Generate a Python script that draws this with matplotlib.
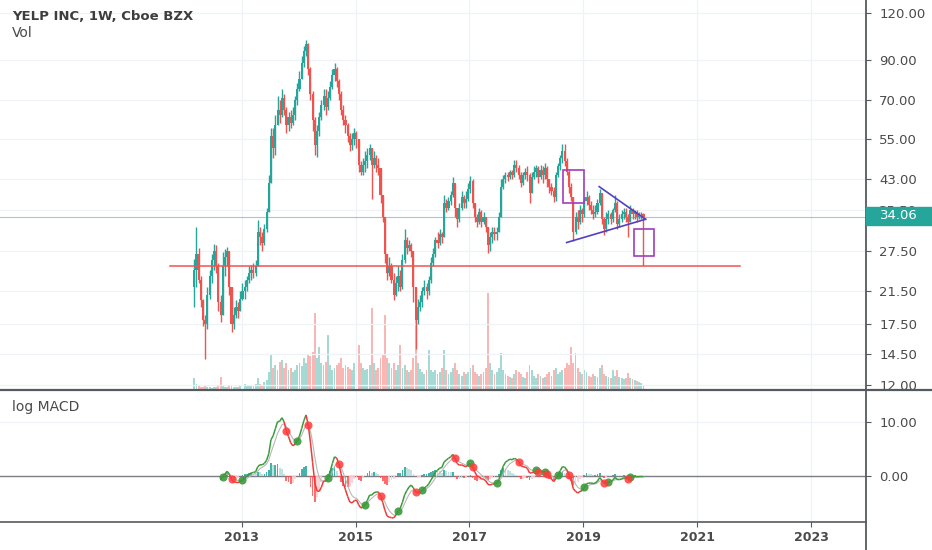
import numpy as np
import pandas as pd
import matplotlib
matplotlib.use("Agg")
import matplotlib.pyplot as plt
from matplotlib.collections import LineCollection
from matplotlib.patches import Rectangle
from matplotlib.lines import Line2D
from matplotlib.ticker import FixedLocator, FuncFormatter, NullLocator

plt.rcParams["font.family"] = "DejaVu Sans"

W, H = 932, 550

# -----------------------------
# Data (bi-weekly candles, Mar 2012 - Jan 2020)
# -----------------------------
start_year = 2012.17
step = 1 / 26
first_open = 22.0

closes = [
    24.5, 27.0, 23.0, 20.3, 18.0, 17.5, 21.0, 23.5, 26.0, 27.5,
    25.0, 20.0, 18.5, 25.0, 26.5, 27.5, 22.0, 17.5, 18.5, 19.5,
    19.0, 20.5, 21.5, 22.0, 23.0, 24.0, 24.5, 24.0, 25.0, 31.0,
    30.0, 29.0, 31.5, 35.0, 42.0, 56.0, 52.0, 60.0, 66.0, 64.0,
    71.0, 66.0, 60.0, 63.0, 61.0, 64.0, 70.0, 75.0, 80.0, 88.0,
    95.0, 99.0, 85.0, 73.0, 62.0, 53.0, 58.0, 63.0, 68.0, 72.0,
    67.0, 71.0, 76.0, 82.0, 85.0, 79.0, 73.0, 66.0, 62.0, 60.0,
    56.0, 53.0, 55.0, 57.0, 55.0, 47.0, 45.0, 47.0, 48.0, 50.0,
    52.0, 47.0, 49.0, 47.0, 46.0, 39.0, 34.0, 27.0, 24.0, 25.0,
    23.0, 21.0, 22.5, 23.5, 22.0, 26.0, 29.5, 28.0, 28.5, 27.5,
    22.0, 18.0, 19.5, 20.0, 21.5, 22.0, 21.5, 23.0, 25.5, 27.0,
    29.5, 29.0, 30.5, 30.0, 37.0, 36.0, 37.5, 39.0, 42.0, 36.0,
    33.5, 36.0, 38.5, 37.0, 38.0, 40.5, 42.5, 37.0, 34.0, 33.0,
    35.0, 33.0, 34.0, 32.0, 28.5, 30.0, 31.0, 30.5, 31.0, 34.0,
    41.0, 43.0, 44.0, 43.5, 45.0, 44.0, 47.0, 46.0, 44.0, 42.0,
    44.0, 45.0, 44.0, 39.5, 43.5, 45.0, 46.0, 43.5, 45.5, 44.0,
    46.0, 43.0, 41.0, 40.0, 38.5, 44.0, 46.5, 49.0, 51.0, 48.0,
    45.0, 41.0, 38.5, 31.0, 34.0, 33.0, 35.5, 34.5, 37.5, 38.5,
    36.5, 35.5, 34.5, 35.0, 37.0, 39.5, 33.5, 31.5, 33.5, 34.5,
    33.5, 35.5, 37.0, 32.5, 33.5, 34.5, 35.0, 34.0, 33.0, 35.5,
    34.5, 35.0, 34.0, 34.5, 34.5, 34.06,
]

highs = [
    26.2, 32.0, 28.0, 23.5, 20.5, 18.5, 22.0, 24.5, 27.0, 28.8,
    28.5, 25.5, 21.0, 27.4, 27.8, 28.2, 27.5, 22.0, 19.5, 20.3,
    20.0, 21.5, 22.5, 23.0, 23.5, 25.0, 25.3, 25.5, 26.0, 33.3,
    32.0, 31.0, 32.5, 36.0, 44.0, 59.0, 59.0, 64.0, 72.0, 70.0,
    75.0, 73.0, 67.0, 65.0, 66.0, 67.0, 72.0, 78.0, 84.0, 92.0,
    98.0, 102.0, 100.0, 86.0, 74.0, 63.0, 60.0, 65.0, 70.0, 75.0,
    75.0, 74.0, 79.0, 85.0, 88.0, 86.0, 80.0, 74.0, 68.0, 64.0,
    61.0, 57.0, 57.0, 59.0, 58.0, 55.0, 48.0, 49.0, 51.0, 52.0,
    53.5, 52.0, 51.0, 50.0, 49.0, 46.0, 39.0, 34.0, 27.0, 26.5,
    25.5, 24.0, 23.5, 25.0, 24.5, 27.0, 31.5, 30.0, 29.5, 29.0,
    27.5, 22.0, 20.5, 21.0, 22.0, 23.0, 22.5, 23.5, 26.5, 28.0,
    30.0, 31.0, 31.5, 31.0, 39.0, 38.0, 38.5, 40.0, 43.5, 42.0,
    36.0, 37.0, 40.0, 39.0, 40.0, 42.0, 43.7, 43.0, 37.0, 34.5,
    36.0, 35.5, 35.0, 34.0, 32.0, 31.0, 32.0, 32.0, 32.0, 35.0,
    43.0, 44.0, 45.0, 45.0, 45.5, 45.5, 48.5, 48.4, 47.0, 45.0,
    45.0, 46.0, 46.5, 44.5, 45.0, 46.5, 47.0, 46.5, 47.0, 46.5,
    47.5, 46.5, 43.0, 42.0, 41.0, 45.0, 47.5, 50.0, 53.5, 53.5,
    49.0, 45.5, 42.0, 38.5, 35.0, 35.5, 36.5, 36.0, 38.5, 40.0,
    39.0, 37.5, 36.5, 36.5, 38.0, 40.5, 39.5, 34.0, 35.0, 35.5,
    35.0, 36.0, 39.0, 37.5, 34.5, 35.5, 36.0, 36.0, 34.5, 36.5,
    36.0, 35.5, 35.5, 35.0, 35.0, 34.8,
]

lows = [
    19.5, 22.0, 22.5, 19.5, 17.3, 14.1, 17.0, 20.5, 22.5, 24.5,
    24.0, 19.0, 17.7, 18.5, 23.5, 25.0, 21.0, 16.7, 17.0, 18.2,
    18.2, 19.0, 20.3, 20.5, 21.5, 22.5, 23.0, 23.3, 23.5, 25.0,
    28.5, 27.5, 28.5, 31.0, 35.0, 42.0, 49.0, 50.0, 60.0, 61.0,
    63.0, 64.0, 57.0, 58.0, 59.0, 60.0, 62.0, 68.0, 74.0, 80.0,
    86.0, 92.0, 82.0, 70.0, 58.0, 50.0, 49.2, 56.0, 62.0, 66.0,
    64.0, 66.0, 70.0, 75.0, 79.0, 76.0, 70.0, 64.0, 60.0, 57.0,
    54.0, 51.0, 51.5, 53.0, 52.0, 45.0, 44.0, 44.0, 45.0, 46.0,
    48.5, 38.0, 46.0, 45.0, 44.0, 37.0, 33.0, 25.5, 23.0, 23.5,
    22.5, 20.3, 20.8, 21.5, 21.5, 21.8, 25.5, 27.0, 27.5, 26.5,
    20.0, 15.0, 17.5, 19.0, 19.5, 21.0, 20.5, 21.0, 22.5, 25.0,
    26.5, 28.0, 28.5, 29.0, 30.0, 35.0, 35.5, 36.5, 38.5, 34.0,
    32.0, 33.0, 35.5, 36.0, 36.0, 37.5, 39.5, 36.0, 33.0, 32.0,
    32.5, 32.0, 32.5, 31.0, 27.2, 27.5, 29.0, 29.5, 29.5, 31.0,
    34.0, 40.5, 42.0, 42.5, 43.0, 43.0, 43.5, 45.0, 43.0, 41.0,
    41.5, 43.0, 42.5, 37.0, 39.5, 43.0, 43.5, 42.0, 43.0, 42.0,
    43.0, 41.0, 39.5, 39.0, 37.3, 37.5, 43.5, 45.5, 47.5, 46.5,
    44.0, 39.5, 37.5, 29.2, 30.5, 31.5, 32.5, 33.0, 34.0, 36.5,
    35.5, 34.5, 33.5, 34.0, 34.5, 36.5, 32.5, 30.3, 31.0, 32.5,
    32.5, 33.0, 35.0, 31.5, 32.0, 33.0, 33.5, 33.0, 30.0, 33.0,
    33.5, 33.5, 33.0, 33.5, 33.5, 25.0,
]

volumes = [
    12, 6, 4, 3, 3, 5, 3, 3, 2, 3,
    3, 4, 13, 4, 3, 3, 4, 5, 3, 3,
    3, 4, 3, 6, 5, 4, 5, 4, 6, 12,
    6, 5, 8, 10, 18, 35, 22, 25, 20, 28,
    30, 22, 27, 20, 22, 18, 20, 25, 27, 24,
    32, 27, 36, 34, 38, 77, 32, 43, 27, 25,
    28, 55, 25, 20, 22, 25, 27, 32, 22, 25,
    23, 21, 20, 27, 25, 45, 27, 22, 20, 21,
    25, 82, 27, 20, 22, 32, 36, 75, 32, 27,
    22, 27, 20, 25, 45, 22, 25, 20, 18, 20,
    32, 77, 27, 21, 18, 16, 20, 40, 20, 18,
    20, 16, 18, 22, 40, 20, 16, 18, 22, 27,
    20, 16, 14, 18, 16, 18, 22, 25, 18, 16,
    14, 16, 18, 22, 97, 27, 20, 16, 18, 22,
    37, 20, 16, 14, 13, 12, 16, 20, 18, 16,
    13, 12, 18, 25, 20, 14, 12, 16, 14, 12,
    13, 16, 18, 14, 20, 22, 16, 18, 20, 22,
    27, 25, 43, 27, 37, 22, 18, 16, 20, 18,
    14, 13, 16, 14, 13, 22, 25, 16, 14, 13,
    12, 20, 14, 20, 13, 12, 11, 12, 17, 12,
    11, 10, 9, 8, 7, 5,
]

price_ticks = [12, 14.5, 17.5, 21.5, 27.5, 35.5, 43, 55, 70, 90, 120]
macd_ticks = [0, 10]
year_ticks = [2013, 2015, 2017, 2019, 2021, 2023]

support_level = 25.0
support_span = (2011.75, 2021.75)
last_price = 34.06

# drawings (time, price)
box1 = (2018.64, 2019.01, 37.1, 45.5)
box2 = (2019.886, 2020.237, 26.7, 31.5)
tri_upper = [(2019.277, 41.0), (2020.091, 33.5)]
tri_lower = [(2018.705, 29.0), (2020.091, 33.5)]

# -----------------------------
# Colors
# -----------------------------
UP = "#26a69a"
DOWN = "#ef5350"
TXT = "#4a4a4a"
AXC = "#555a60"
GRID = "#eff2f7"
PURPLE = "#a23dbd"
INDIGO = "#5340c0"

# -----------------------------
# Derived series
# -----------------------------
c = np.array(closes)
n = len(c)
t = start_year + np.arange(n) * step
o = np.concatenate([[first_open], c[:-1]])
h = np.maximum(np.array(highs), np.maximum(o, c))
l = np.minimum(np.array(lows), np.minimum(o, c))
up = c >= o
cols = np.where(up, UP, DOWN)

# MACD (12/26/9 weeks -> 6/13/4.5 on bi-weekly bars)
cs = pd.Series(c)
fast = cs.ewm(span=6, adjust=False).mean()
slow = cs.ewm(span=13, adjust=False).mean()
macd = fast - slow
signal = macd.ewm(span=4.5, adjust=False).mean()
hist = (macd - signal).values
macd = macd.values
signal = signal.values
m0 = 12

# -----------------------------
# Figure
# -----------------------------
fig = plt.figure(figsize=(W / 100, H / 100), dpi=100)
fig.patch.set_facecolor("white")

def fx(px):
    return px / W

def fy(py):
    return 1 - py / H

rect_price = [0, fy(390), fx(866), 390 / H]
rect_macd = [0, fy(522), fx(866), (522 - 390) / H]

xlim = (2008.76, 2023.96)

# volume (under the price pane)
axv = fig.add_axes(rect_price)
axv.bar(t, volumes, width=0.85 * step, color=cols, alpha=0.42, linewidth=0)
axv.set_xlim(*xlim)
axv.set_ylim(0, max(volumes) * 390 / 97)
axv.axis("off")

# price pane
ax = fig.add_axes(rect_price)
ax.patch.set_alpha(0)
ax.set_yscale("log")
ax.set_xlim(*xlim)
ax.set_ylim(11.63, 130.3)
ax.yaxis.set_major_locator(FixedLocator(price_ticks))
ax.yaxis.set_minor_locator(NullLocator())
ax.yaxis.set_major_formatter(FuncFormatter(lambda v, p: "%.2f" % v))
ax.yaxis.tick_right()
ax.tick_params(axis="y", length=3.6, width=0.8, color=AXC, labelsize=9.5,
               labelcolor=TXT, pad=6)
ax.set_xticks(year_ticks)
ax.tick_params(axis="x", length=0, labelbottom=False)
ax.grid(True, color=GRID, lw=0.9, zorder=0)
for s in ax.spines.values():
    s.set_visible(False)

ax.vlines(t, l, h, colors=cols, lw=1.0, zorder=3)
ax.bar(t, np.abs(c - o), bottom=np.minimum(o, c), width=0.95 * step,
       color=cols, linewidth=0, zorder=4)

ax.plot(support_span, [support_level, support_level], color="#f0524f", lw=1.1, zorder=5)
ax.axhline(last_price, color=UP, lw=0.8, alpha=0.5, zorder=2)

for x0, x1, y0, y1 in (box1, box2):
    ax.add_patch(Rectangle((x0, y0), x1 - x0, y1 - y0, fill=False,
                           ec=PURPLE, lw=1.2, zorder=6))
for seg in (tri_upper, tri_lower):
    ax.plot([p[0] for p in seg], [p[1] for p in seg], color=INDIGO, lw=1.2, zorder=6)

# MACD pane
axm = fig.add_axes(rect_macd)
axm.set_xlim(*xlim)
axm.set_ylim(-8.5, 15.9)
axm.set_yticks(macd_ticks)
axm.yaxis.set_major_formatter(FuncFormatter(lambda v, p: "%.2f" % v))
axm.yaxis.tick_right()
axm.tick_params(axis="y", length=3.6, width=0.8, color=AXC, labelsize=9.5,
                labelcolor=TXT, pad=6)
axm.set_xticks(year_ticks)
axm.set_xticklabels([str(y) for y in year_ticks], fontweight="bold")
axm.tick_params(axis="x", length=3.6, width=0.8, color=AXC, labelsize=9,
                labelcolor=TXT, pad=3)
axm.grid(True, color=GRID, lw=0.9, zorder=0)
for k, s in axm.spines.items():
    s.set_visible(k == "bottom")
axm.spines["bottom"].set_color(AXC)
axm.spines["bottom"].set_linewidth(1.2)
axm.axhline(0, color="#7b7e85", lw=1.0, zorder=2)

# histogram
hcols = []
for i in range(n):
    prev = hist[i - 1] if i > 0 else 0
    if hist[i] >= 0:
        hcols.append("#26a69a" if hist[i] >= prev else "#b2dfdb")
    else:
        hcols.append("#ff5252" if hist[i] < prev else "#ffcdd2")
idx = np.arange(m0, n)
axm.bar(t[idx], hist[idx], width=0.8 * step, color=[hcols[i] for i in idx],
        linewidth=0, alpha=0.85, zorder=3)

axm.plot(t[idx], signal[idx], color="#b8b8b8", lw=0.8, zorder=4)
pts = np.column_stack([t[idx], macd[idx]])
segs = np.stack([pts[:-1], pts[1:]], axis=1)
seg_cols = ["#3a9b3a" if macd[i] >= signal[i] else "#f03a3a" for i in idx[1:]]
axm.add_collection(LineCollection(segs, colors=seg_cols, linewidths=1.1, zorder=5))

ups = [i for i in idx[1:] if hist[i] >= 0 and hist[i - 1] < 0]
downs = [i for i in idx[1:] if hist[i] < 0 and hist[i - 1] >= 0]
axm.scatter(t[ups], macd[ups], s=34, color="#3c9a3c", alpha=0.9, lw=0, zorder=6)
axm.scatter(t[downs], macd[downs], s=34, color="#ff3b3b", alpha=0.85, lw=0, zorder=6)

# -----------------------------
# Frame, labels
# -----------------------------
fig.add_artist(Line2D([fx(866), fx(866)], [0, 1], color=AXC, lw=1.3))
fig.add_artist(Line2D([0, 1], [fy(390), fy(390)], color=AXC, lw=1.6))

fig.add_artist(Rectangle((fx(866), fy(224.6)), fx(932) - fx(866), (224.6 - 207) / H,
                         transform=fig.transFigure, color=UP, zorder=5))
fig.text(fx(880), fy(215.8), "%.2f" % last_price, color="white", fontsize=9.5,
         ha="left", va="center", zorder=6)

fig.text(fx(12), fy(16), "YELP INC, 1W, Cboe BZX", fontsize=9.5, fontweight="bold",
         color="#3d3d3d", ha="left", va="center")
fig.text(fx(12), fy(33), "Vol", fontsize=10, color=TXT, ha="left", va="center")
fig.text(fx(12), fy(407), "log MACD", fontsize=10, color=TXT, ha="left", va="center")

fig.savefig("out.png", dpi=100, facecolor="white")
plt.close(fig)
